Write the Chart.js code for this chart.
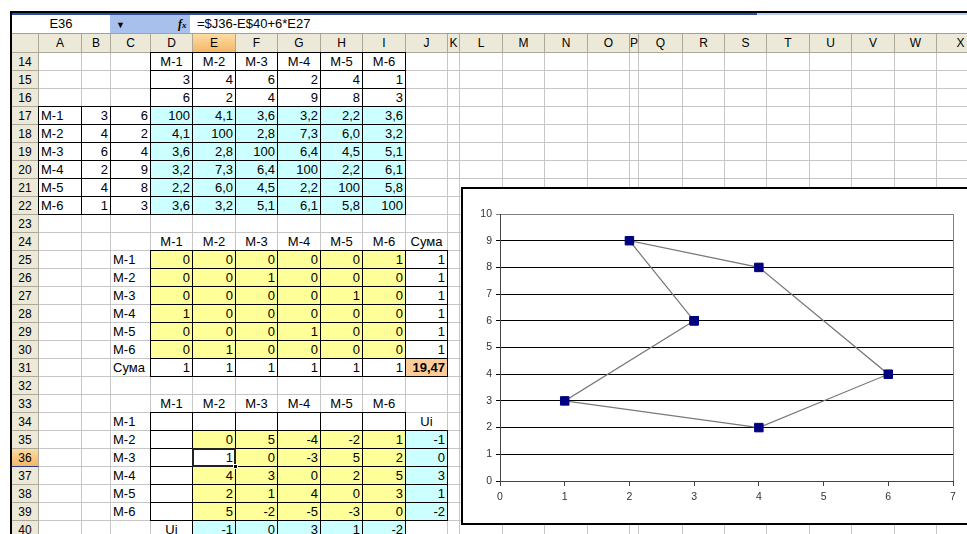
<!DOCTYPE html>
<html>
<head>
<meta charset="utf-8">
<script src="https://cdn.jsdelivr.net/npm/chart.js@4.4.1/dist/chart.umd.min.js"></script>
<style>
  body { margin: 0; width: 967px; height: 534px; overflow: hidden; background: #fff; position: relative;
         font-family: Arial, 'Liberation Sans', sans-serif; }
  .c { position: absolute; box-sizing: border-box; font-size: 13px; line-height: 17px; white-space: nowrap;
       overflow: hidden; border-right: 1px solid #c6c6c6; border-bottom: 1px solid #c6c6c6; padding: 0 2px; z-index: 1; }
  .hd { position: absolute; box-sizing: border-box; font-size: 12px; line-height: 18px; text-align: center;
        background: #ece9d8; border-right: 1px solid #aca899; border-bottom: 1px solid #aca899; z-index: 2; }
  .hd.sel { background: linear-gradient(#fcdca4, #f5b668); border-bottom: 1px solid #2b3b8c; }
  .bx { position: absolute; box-sizing: border-box; border: 1px solid #000; z-index: 3; pointer-events: none; }
  #chartBox { position: absolute; left: 461px; top: 187px; width: 520px; height: 338px; box-sizing: border-box;
              border: 2px solid #000; background: #fff; z-index: 10; }
</style>
</head>
<body>
<div id="sheet"></div>
<div id="chartBox"><canvas id="chart" width="510" height="334"></canvas></div>
<script>
// ---------------------------------------------------------------------------
// Data
// ---------------------------------------------------------------------------
const machines = ['M-1', 'M-2', 'M-3', 'M-4', 'M-5', 'M-6'];
const coordX = [3, 4, 6, 2, 4, 1];
const coordY = [6, 2, 4, 9, 8, 3];
const distances = [
  [100, 4.1, 3.6, 3.2, 2.2, 3.6],
  [4.1, 100, 2.8, 7.3, 6.0, 3.2],
  [3.6, 2.8, 100, 6.4, 4.5, 5.1],
  [3.2, 7.3, 6.4, 100, 2.2, 6.1],
  [2.2, 6.0, 4.5, 2.2, 100, 5.8],
  [3.6, 3.2, 5.1, 6.1, 5.8, 100],
];
// assignment matrix (rows 25..30): machine i -> machine j
const assignment = [
  [0, 0, 0, 0, 0, 1],
  [0, 0, 1, 0, 0, 0],
  [0, 0, 0, 0, 1, 0],
  [1, 0, 0, 0, 0, 0],
  [0, 0, 0, 1, 0, 0],
  [0, 1, 0, 0, 0, 0],
];
const totalLength = '19,47';
// potentials check table, rows M-2..M-6, cols M-2..M-6
const reduced = [
  [0, 5, -4, -2, 1],
  [1, 0, -3, 5, 2],
  [4, 3, 0, 2, 5],
  [2, 1, 4, 0, 3],
  [5, -2, -5, -3, 0],
];
const uRows = [-1, 0, 3, 1, -2];
const uCols = [-1, 0, 3, 1, -2];
const xRange = [0, 7];
const yRange = [0, 10];

const activeCell = 'E36';
const formula = '=$J36-E$40+6*E27';

// ---------------------------------------------------------------------------
// Sheet geometry
// ---------------------------------------------------------------------------
const LETTERS = 'ABCDEFGHIJKLMNOPQRSTUVWX';
const colEdges = [12, 39, 82, 111, 151, 193, 236, 278, 321, 363, 406, 448, 460, 503, 545,
                  588, 630, 639, 683, 725, 767, 810, 852, 895, 937, 985];
const ROW_FIRST = 14, ROW_LAST = 41, ROW_TOP = 53, ROW_H = 18;
const CYAN = '#ccffff', YELLOW = '#ffff99', ORANGE = '#ffcc99';

const rowTop = (r) => ROW_TOP + (r - ROW_FIRST) * ROW_H;
const colOf = (l) => LETTERS.indexOf(l) + 1;
const sheet = document.getElementById('sheet');

function div(cls, x, y, w, h, css) {
  const d = document.createElement('div');
  d.className = cls;
  Object.assign(d.style, { left: x + 'px', top: y + 'px', width: w + 'px', height: h + 'px' }, css || {});
  sheet.appendChild(d);
  return d;
}

const cells = {};
function put(ref, text, opt) { cells[ref] = Object.assign({ t: String(text) }, opt || {}); }
const fmt = (v) => (v === 100 ? '100' : v.toFixed(1).replace('.', ','));
const colL = (i) => LETTERS[3 + i]; // D..I

machines.forEach((m, i) => {
  put(colL(i) + 14, m, { a: 'center', b: 1 });
  put(colL(i) + 15, coordX[i], { a: 'right', b: 1 });
  put(colL(i) + 16, coordY[i], { a: 'right', b: 1 });
  const r = 17 + i;
  put('A' + r, m, { a: 'left', b: 1 });
  put('B' + r, coordX[i], { a: 'right', b: 1 });
  put('C' + r, coordY[i], { a: 'right', b: 1 });
  distances[i].forEach((v, j) => put(colL(j) + r, fmt(v), { a: 'right', b: 1, f: CYAN }));

  put(colL(i) + 24, m, { a: 'center' });
  const ar = 25 + i;
  put('C' + ar, m, { a: 'left' });
  assignment[i].forEach((v, j) => put(colL(j) + ar, v, { a: 'right', b: 1, f: YELLOW }));
  put('J' + ar, assignment[i].reduce((s, v) => s + v, 0), { a: 'right', b: 1 });
  put(colL(i) + 31, assignment.reduce((s, row) => s + row[i], 0), { a: 'right', b: 1 });

  put(colL(i) + 33, m, { a: 'center' });
  put('C' + (34 + i), m, { a: 'left' });
  put(colL(i) + 34, '', { b: 1 });
});
put('J24', 'Сума', { a: 'center' });
put('C31', 'Сума', { a: 'left' });
put('J31', totalLength, { a: 'right', b: 1, f: ORANGE, bold: 1 });
put('J34', 'Ui', { a: 'center' });
reduced.forEach((row, i) => {
  const r = 35 + i;
  put('D' + r, '', { b: 1 });
  row.forEach((v, j) => put(LETTERS[4 + j] + r, v, { a: 'right', b: 1, f: YELLOW }));
  put('J' + r, uRows[i], { a: 'right', b: 1, f: CYAN });
});
put('D40', 'Ui', { a: 'center' });
uCols.forEach((v, j) => put(LETTERS[4 + j] + 40, v, { a: 'right', b: 1, f: CYAN }));
cells[activeCell].f = '#fff';

// body cells
for (let r = ROW_FIRST; r <= ROW_LAST; r += 1) {
  for (let c = 1; c <= LETTERS.length; c += 1) {
    const ref = LETTERS[c - 1] + r;
    const x = colEdges[c], w = colEdges[c + 1] - x, y = rowTop(r);
    const info = cells[ref];
    const d = div('c', x, y, w, ROW_H);
    if (info) {
      d.textContent = info.t;
      d.style.textAlign = info.a || 'left';
      if (info.f) d.style.background = info.f;
      if (info.bold) d.style.fontWeight = 'bold';
      if (info.b) div('bx', x - 1, y - 1, w + 1, ROW_H + 1);
    }
  }
  const rh = div('hd', colEdges[0], rowTop(r), colEdges[1] - colEdges[0], ROW_H);
  rh.textContent = r;
  if (String(r) === activeCell.slice(1)) rh.classList.add('sel');
}

// column headers
div('hd', colEdges[0], 34, colEdges[1] - colEdges[0], 19);
for (let c = 1; c <= LETTERS.length; c += 1) {
  const h = div('hd', colEdges[c], 34, colEdges[c + 1] - colEdges[c], 19);
  h.textContent = LETTERS[c - 1];
  if (LETTERS[c - 1] === activeCell[0]) h.classList.add('sel');
}

// active cell frame + fill handle
{
  const c = colOf(activeCell[0]), r = +activeCell.slice(1);
  const x = colEdges[c], y = rowTop(r), w = colEdges[c + 1] - x;
  div('bx', x - 1, y - 1, w + 1, ROW_H + 1, { border: '2px solid #222', zIndex: 4 });
  div('bx', x + w - 3, y + ROW_H - 3, 5, 5, { background: '#000', border: '1px solid #fff', zIndex: 5 });
}

// formula bar + frame
div('fb', 10, 11, 957, 2, { position: 'absolute', background: '#000', zIndex: 6 });
div('fb', 12, 13, 745, 2, { position: 'absolute', background: '#2c4e9c', zIndex: 6 });
div('fb', 757, 13, 210, 2, { position: 'absolute', background: '#b9cdee', zIndex: 6 });
div('fb', 12, 15, 955, 19, { position: 'absolute', background: '#fff', borderBottom: '1px solid #a0a0a0', boxSizing: 'border-box', zIndex: 6 });
const nb = div('fb', 12, 15, 98, 18, { position: 'absolute', textAlign: 'center', fontSize: '13px', lineHeight: '18px', zIndex: 7 });
nb.textContent = activeCell;
const dd = div('fb', 110, 15, 80, 18, { position: 'absolute', background: '#a8c0ec', zIndex: 7, fontSize: '9px', lineHeight: '18px' });
dd.innerHTML = '<span style="position:absolute;left:6px;top:1px">&#9660;</span>' +
  '<span style="position:absolute;left:68px;top:0;font:italic bold 12px \'Times New Roman\',serif;line-height:18px">f<span style="font-size:9px">x</span></span>';
const fx = div('fb', 197, 15, 700, 18, { position: 'absolute', fontSize: '13px', lineHeight: '18px', zIndex: 7 });
fx.textContent = formula;
div('fb', 10, 11, 2, 523, { position: 'absolute', background: '#000', zIndex: 8 });

// ---------------------------------------------------------------------------
// Chart: closed tour built from the assignment matrix
// ---------------------------------------------------------------------------
const tour = [0];
for (let k = 0; k < machines.length; k += 1) {
  const from = tour[tour.length - 1];
  tour.push(assignment[from].indexOf(1));
}
const tourPoints = tour.map((i) => ({ x: coordX[i], y: coordY[i] }));

const plotBorder = {
  id: 'plotBorder',
  beforeDatasetsDraw(chart) {
    const a = chart.chartArea;
    const ctx = chart.ctx;
    ctx.save();
    ctx.strokeStyle = '#808080';
    ctx.lineWidth = 1;
    ctx.beginPath();
    ctx.moveTo(Math.round(a.right) + 0.5, a.top);
    ctx.lineTo(Math.round(a.right) + 0.5, a.bottom);
    ctx.stroke();
    ctx.restore();
  },
};

const tickFont = { family: 'Arial, "Liberation Sans", sans-serif', size: 10.5 };

new Chart(document.getElementById('chart'), {
  type: 'scatter',
  data: {
    datasets: [{
      data: tourPoints,
      showLine: true,
      borderColor: '#777777',
      borderWidth: 1.2,
      pointStyle: 'rect',
      pointRadius: 6,
      pointBackgroundColor: '#000080',
      pointBorderColor: '#000080',
      pointBorderWidth: 1,
    }],
  },
  options: {
    responsive: false,
    animation: false,
    devicePixelRatio: 1,
    layout: { padding: { top: 25, right: 20, left: 0, bottom: 0 } },
    plugins: { legend: { display: false }, tooltip: { enabled: false } },
    scales: {
      x: {
        type: 'linear', min: xRange[0], max: xRange[1],
        ticks: { stepSize: 1, color: '#333', font: tickFont, padding: 5 },
        grid: { drawOnChartArea: false, drawTicks: true, tickLength: 5, color: '#444' },
        border: { color: '#444', width: 1 },
        afterFit(s) { s.height = 42; },
      },
      y: {
        type: 'linear', min: yRange[0], max: yRange[1],
        ticks: { stepSize: 1, color: '#333', font: tickFont, padding: 4 },
        grid: {
          drawTicks: true, tickLength: 4, lineWidth: 1,
          color: (c) => (c.tick && c.tick.value === yRange[1] ? '#808080' : '#000'),
        },
        border: { color: '#444', width: 1 },
        afterFit(s) { s.width = 37; },
      },
    },
  },
  plugins: [plotBorder],
});
</script>
</body>
</html>
